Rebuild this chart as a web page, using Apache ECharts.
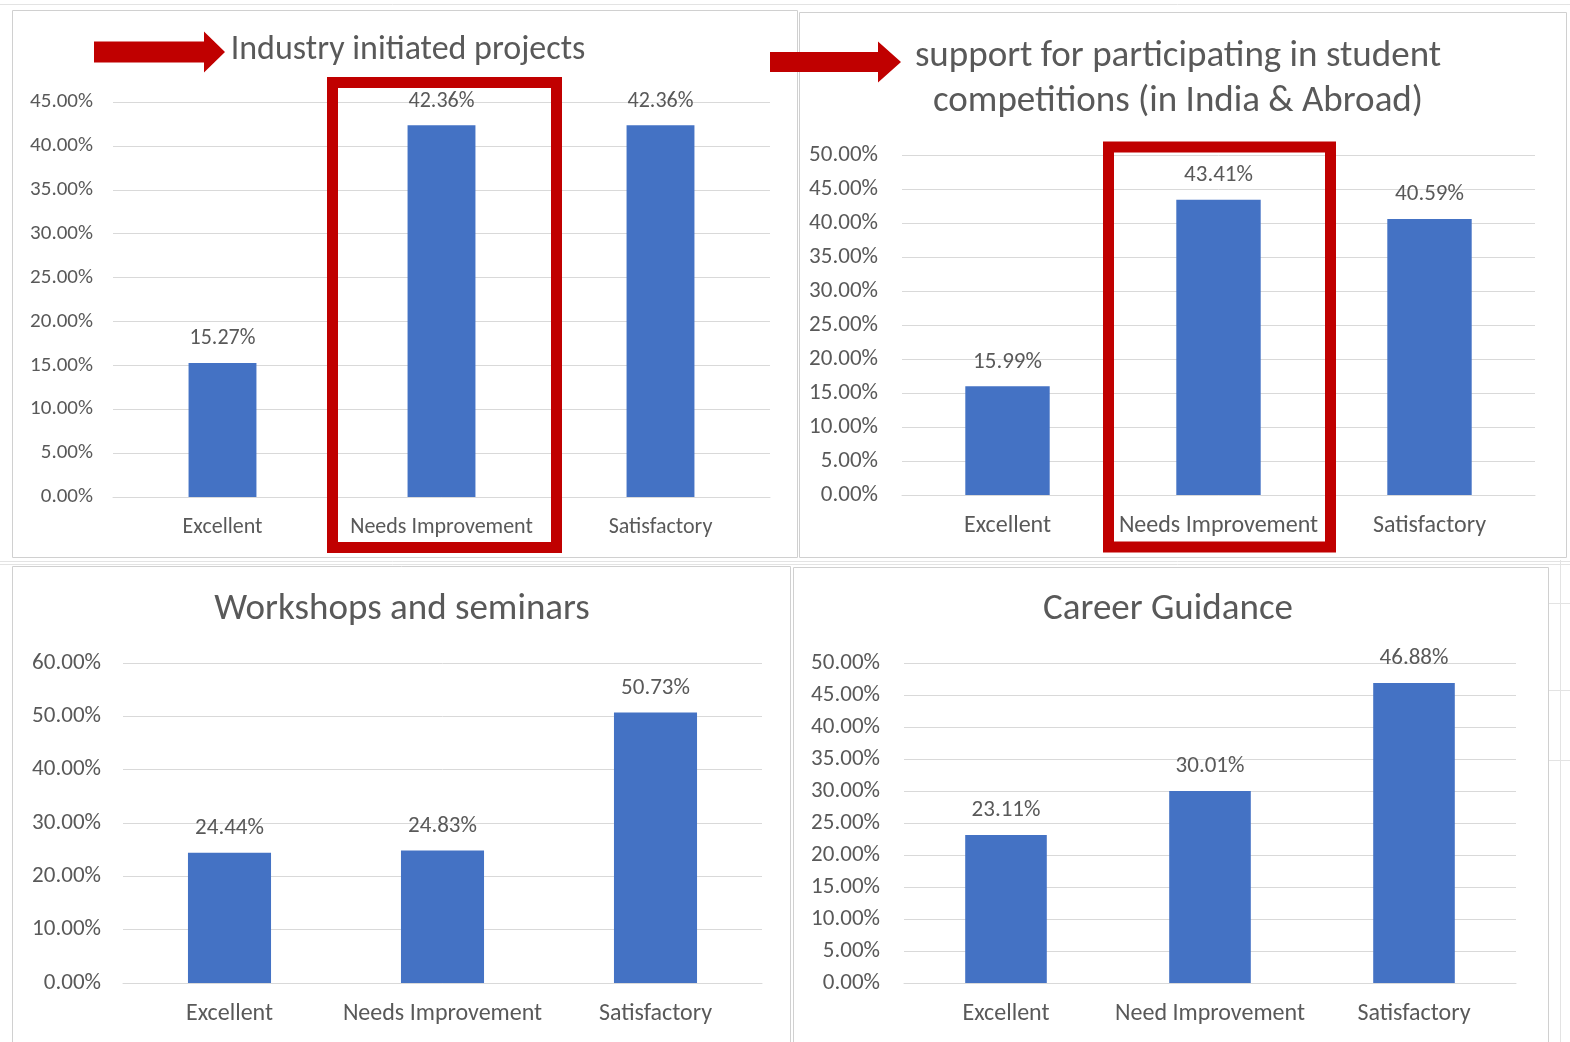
<!DOCTYPE html>
<html>
<head>
<meta charset="utf-8">
<script src="https://cdn.jsdelivr.net/npm/echarts@6/dist/echarts.min.js"></script>
<style>
  html, body { margin: 0; padding: 0; background: #fff; }
  #chart { width: 1570px; height: 1042px; }
</style>
</head>
<body>
<div id="chart"></div>
<script>
// categories
const ratingsNeeds = ['Excellent', 'Needs Improvement', 'Satisfactory']
const ratingsNeed = ['Excellent', 'Need Improvement', 'Satisfactory']

// values in percent
const industryValues = [15.27, 42.36, 42.36]
const competitionValues = [15.99, 43.41, 40.59]
const workshopValues = [24.44, 24.83, 50.73]
const careerValues = [23.11, 30.01, 46.88]

// axis ranges (max, step)
const industryAxis = [45, 5]
const competitionAxis = [50, 5]
const workshopAxis = [60, 10]
const careerAxis = [50, 5]

const FONT = 'Carlito, Lato, "Open Sans", sans-serif'
const TXT = '#595959'
const BAR = '#4472C4'
const RED = '#C00000'
const GRID = '#d9d9d9'

// pixel boxes of the four plot areas
const panels = [
  { cats: ratingsNeeds, vals: industryValues, axis: industryAxis, grid: { left: 113, right: 800, top: 102, bottom: 545 }, barWidth: '31%', margin: 20, yFont: 21, xFont: 22, lFont: 22 },
  { cats: ratingsNeeds, vals: competitionValues, axis: competitionAxis, grid: { left: 902, right: 35, top: 155, bottom: 547 }, barWidth: '40%', margin: 24, yFont: 23, xFont: 24, lFont: 23 },
  { cats: ratingsNeeds, vals: workshopValues, axis: workshopAxis, grid: { left: 123, right: 808, top: 663, bottom: 59 }, barWidth: '39%', margin: 22, yFont: 23, xFont: 24, lFont: 23 },
  { cats: ratingsNeed, vals: careerValues, axis: careerAxis, grid: { left: 904, right: 54, top: 663, bottom: 59 }, barWidth: '40%', margin: 24, yFont: 23, xFont: 24, lFont: 23 }
]

const pct = v => v.toFixed(2) + '%'

const chart = echarts.init(document.getElementById('chart'))

const titleText = (text, x, y, size) => ({
  type: 'text', x: x, y: y, z: 10,
  style: { text: text, fill: TXT, font: size + 'px ' + FONT, textAlign: 'center', textVerticalAlign: 'middle' }
})

const arrow = (x0, x1, xTip, yc, shaftH, headH) => ({
  type: 'polygon', z: 10,
  shape: { points: [
    [x0, yc - shaftH / 2], [x1, yc - shaftH / 2], [x1, yc - headH / 2], [xTip, yc],
    [x1, yc + headH / 2], [x1, yc + shaftH / 2], [x0, yc + shaftH / 2]
  ] },
  style: { fill: RED }
})

const box = (x, y, w, h, stroke, lw, z) => ({
  type: 'rect', z: z, silent: true,
  shape: { x: x, y: y, width: w, height: h },
  style: { fill: 'none', stroke: stroke, lineWidth: lw }
})

const line = (x1, y1, x2, y2) => ({
  type: 'line', z: -1, silent: true,
  shape: { x1: x1, y1: y1, x2: x2, y2: y2 },
  style: { stroke: '#e3e3e3', lineWidth: 1 }
})

const graphics = [
  // faint spreadsheet cells behind the charts
  line(0, 4.5, 1570, 4.5),
  line(0, 561.5, 1570, 561.5),
  line(0, 564.5, 1570, 564.5),
  line(1560.5, 560, 1560.5, 1042),
  line(1548, 603.5, 1570, 603.5),
  line(1548, 690.5, 1570, 690.5),
  line(1548, 760.5, 1570, 760.5),
  // chart frames
  box(12.5, 10.5, 785, 547, '#d0d0d0', 1, 0),
  box(799.5, 12.5, 767, 545, '#d0d0d0', 1, 0),
  box(12.5, 566.5, 778, 480, '#d0d0d0', 1, 0),
  box(793.5, 567.5, 755, 480, '#d0d0d0', 1, 0),
  // titles
  titleText('Industry initiated projects', 408, 50, 34),
  titleText('support for participating in student', 1178, 57, 37),
  titleText('competitions (in India & Abroad)', 1178, 102, 37),
  titleText('Workshops and seminars', 402, 610, 37),
  titleText('Career Guidance', 1168, 610, 37),
  // annotation arrows
  arrow(94, 204, 225, 52, 21, 41),
  arrow(770, 878, 901, 62, 20, 41),
  // annotation boxes
  box(332.5, 82.5, 224, 465, RED, 11, 10),
  box(1108.5, 147, 222, 400, RED, 11, 10)
]

chart.setOption({
  animation: false,
  textStyle: { fontFamily: FONT },
  grid: panels.map(p => Object.assign({}, p.grid)),
  xAxis: panels.map((p, i) => ({
    type: 'category', gridIndex: i, data: p.cats,
    axisTick: { show: false },
    axisLine: { lineStyle: { color: GRID, width: 1 } },
    axisLabel: { color: TXT, fontSize: p.xFont, margin: 19, fontFamily: FONT, interval: 0 }
  })),
  yAxis: panels.map((p, i) => ({
    type: 'value', gridIndex: i, min: 0, max: p.axis[0], interval: p.axis[1],
    axisLine: { show: false }, axisTick: { show: false },
    splitLine: { lineStyle: { color: GRID, width: 1 } },
    axisLabel: { color: TXT, fontSize: p.yFont, margin: p.margin, fontFamily: FONT, formatter: v => pct(v) }
  })),
  series: panels.map((p, i) => ({
    type: 'bar', xAxisIndex: i, yAxisIndex: i,
    data: p.vals, barWidth: p.barWidth,
    itemStyle: { color: BAR },
    label: { show: true, position: 'top', distance: 13, color: TXT, fontSize: p.lFont, fontFamily: FONT, formatter: d => pct(d.value) }
  })),
  graphic: graphics
})
</script>
</body>
</html>
